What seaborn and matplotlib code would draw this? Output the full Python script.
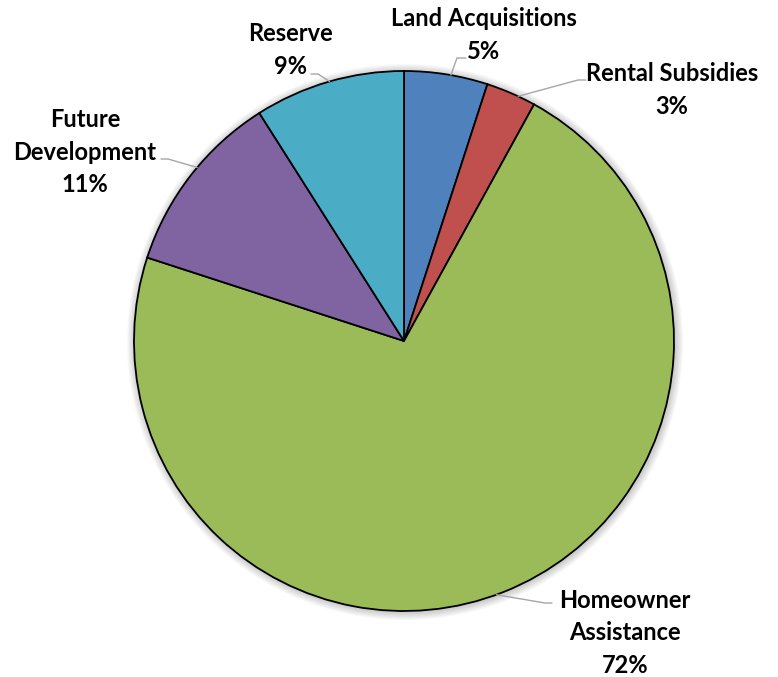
import numpy as np
import matplotlib
matplotlib.use("Agg")
import matplotlib.pyplot as plt
import seaborn as sns
from matplotlib.patches import Circle

# Budget allocation shares (percent), clockwise from 12 o'clock
categories = ["Land Acquisitions", "Rental Subsidies", "Homeowner Assistance",
              "Future Development", "Reserve"]
shares = [5, 3, 72, 11, 9]
label_text = ["Land Acquisitions", "Rental Subsidies", "Homeowner\nAssistance",
              "Future\nDevelopment", "Reserve"]

colors = ["#4F81BD", "#C0504D", "#9BBB59", "#8064A2", "#4BACC6"]

sns.set_theme(style="white")
plt.rcParams["font.family"] = ["Lato", "DejaVu Sans"]

W, H = 778, 677
fig = plt.figure(figsize=(W / 100, H / 100), dpi=100)
ax = fig.add_axes([0, 0, 1, 1])

cx, cy, r = 404, H - 341, 270

# soft glow behind the pie
for i in range(10):
    ax.add_patch(Circle((cx + 1, cy - 1), r + 1 + i * 0.8, color="black",
                        alpha=0.018, lw=0, zorder=0))

wedges, _ = ax.pie(shares, colors=colors, startangle=90, counterclock=False,
                   center=(cx, cy), radius=r, frame=True,
                   wedgeprops=dict(edgecolor="black", linewidth=1.3))
ax.set_xlim(0, W)
ax.set_ylim(0, H)
ax.set_aspect("equal")
ax.axis("off")

# label placement: text center, leader attach angle (deg clockwise from top), elbow
layout = {
    "Land Acquisitions":    dict(xy=(484, 35), ang=10, elbow=[(457, 58), (466, 58)]),
    "Rental Subsidies":     dict(xy=(672, 90), ang=25, elbow=[(578, 80), (586, 80)]),
    "Homeowner Assistance": dict(xy=(625, 633), ang=160, elbow=[(545, 603), (552, 603)]),
    "Future Development":   dict(xy=(85, 152), ang=310, elbow=[(168, 159), (161, 159)]),
    "Reserve":              dict(xy=(291, 50), ang=344, elbow=[(318, 74), (311, 74)]),
}

for cat, txt, val in zip(categories, label_text, shares):
    p = layout[cat]
    a = np.deg2rad(p["ang"])
    pts = [(cx + r * np.sin(a), cy + r * np.cos(a))] + \
          [(x, H - y) for x, y in p["elbow"]]
    xs, ys = zip(*pts)
    ax.plot(xs, ys, color="#A6A6A6", lw=1.0, zorder=1)
    ax.text(p["xy"][0], H - p["xy"][1], f"{txt}\n{val}%", ha="center",
            va="center", multialignment="center", fontsize=17,
            fontweight="bold", color="black", linespacing=1.5, zorder=5)

fig.savefig("out.png", dpi=100, facecolor="white")
